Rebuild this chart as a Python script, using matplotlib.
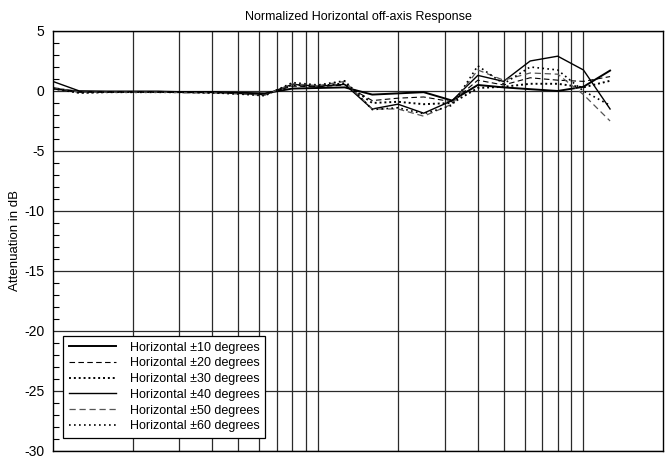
import numpy as np
import matplotlib
matplotlib.use("Agg")
import matplotlib.pyplot as plt
from matplotlib.ticker import MultipleLocator, NullFormatter, FixedLocator

plt.rcParams['font.family'] = ['Liberation Sans', 'DejaVu Sans']
plt.rcParams['axes.unicode_minus'] = False

# frecuencias de tercio de octava (Hz)
freqs = [50, 63, 80, 100, 125, 160, 200, 250, 315, 400, 500, 630,
         800, 1000, 1250, 1600, 2000, 2500, 3150, 4000, 5000, 6300]

# respuesta normalizada (dB) por angulo
h10 = [0.2, -0.05, -0.05, -0.05, -0.05, -0.1, -0.1, -0.15, -0.2, 0.2, 0.25, 0.3,
       -0.3, -0.2, -0.1, -0.8, 0.5, 0.3, 0.15, 0.0, 0.35, 1.7]
h20 = [0.25, -0.1, -0.1, -0.05, -0.05, -0.1, -0.1, -0.2, -0.25, 0.4, 0.35, 0.5,
       -0.8, -0.6, -0.5, -0.9, 0.9, 0.5, 1.1, 0.9, 0.8, 1.2]
h30 = [0.2, -0.15, -0.1, -0.1, -0.1, -0.1, -0.15, -0.2, -0.3, 0.5, 0.4, 0.65,
       -1.0, -0.9, -1.1, -1.0, 0.25, 0.35, 0.6, 0.6, 0.3, 0.85]
h40 = [0.8, 0.0, -0.05, -0.05, -0.05, -0.1, -0.1, -0.2, -0.3, 0.55, 0.4, 0.55,
       -1.5, -1.1, -1.85, -0.8, 1.3, 0.8, 2.5, 2.9, 1.75, -1.5]
h50 = [0.3, -0.1, -0.1, -0.1, -0.1, -0.15, -0.15, -0.25, -0.35, 0.6, 0.45, 0.8,
       -1.5, -1.5, -2.1, -1.1, 1.75, 0.9, 1.5, 1.4, -0.3, -2.5]
h60 = [0.25, -0.15, -0.1, -0.1, -0.1, -0.1, -0.15, -0.25, -0.4, 0.7, 0.5, 0.85,
       -1.55, -1.4, -1.9, -1.2, 2.1, 0.6, 2.0, 1.75, 0.0, -1.2]

# lineas verticales de la rejilla
grid_freqs = [100, 150, 200, 250, 300, 350, 400, 450, 500,
              1000, 1500, 2000, 2500, 3000, 3500, 4000, 4500, 5000]

fig = plt.figure(figsize=(6.69, 4.61), dpi=100)
ax = fig.add_axes([0.0788, 0.0217, 0.9127, 0.9111])

ax.plot(freqs, h10, color='black', lw=1.4, ls='-', label='Horizontal ±10 degrees')
ax.plot(freqs, h20, color='black', lw=0.8, ls=(0, (5, 3)), label='Horizontal ±20 degrees')
ax.plot(freqs, h30, color='black', lw=1.4, ls=(0, (1, 1.5)), label='Horizontal ±30 degrees')
ax.plot(freqs, h40, color='black', lw=1.0, ls='-', label='Horizontal ±40 degrees')
ax.plot(freqs, h50, color='#555555', lw=0.9, ls=(0, (5, 3)), label='Horizontal ±50 degrees')
ax.plot(freqs, h60, color='black', lw=1.2, ls=(0, (1, 2)), label='Horizontal ±60 degrees')

ax.set_xscale('log')
ax.set_xlim(50, 10000)
ax.set_ylim(-30, 5)

ax.xaxis.set_major_locator(FixedLocator(grid_freqs))
ax.xaxis.set_minor_locator(FixedLocator([]))
ax.xaxis.set_major_formatter(NullFormatter())
ax.xaxis.set_minor_formatter(NullFormatter())
ax.tick_params(axis='x', which='both', length=0)

ax.yaxis.set_major_locator(MultipleLocator(5))
ax.yaxis.set_minor_locator(MultipleLocator(1))
ax.tick_params(axis='y', which='both', direction='in', labelsize=10)
ax.tick_params(axis='y', which='minor', length=4, width=0.8)
ax.tick_params(axis='y', which='major', length=0, pad=6)

ax.grid(True, which='major', axis='both', color='#2a2a2a', lw=0.9)
for s in ax.spines.values():
    s.set_linewidth(1.0)
    s.set_color('black')

ax.set_ylabel('Attenuation in dB', fontsize=9.5, labelpad=2)
ax.set_title('Normalized Horizontal off-axis Response', fontsize=9, pad=8)

leg = ax.legend(loc='lower left', bbox_to_anchor=(0.017, 0.031), borderaxespad=0,
                fontsize=9.0, handlelength=3.8, handletextpad=1.1, labelspacing=0.3,
                fancybox=False, framealpha=1, edgecolor='black', borderpad=0.45)
leg.get_frame().set_linewidth(0.9)

plt.savefig('out.png', dpi=100)
